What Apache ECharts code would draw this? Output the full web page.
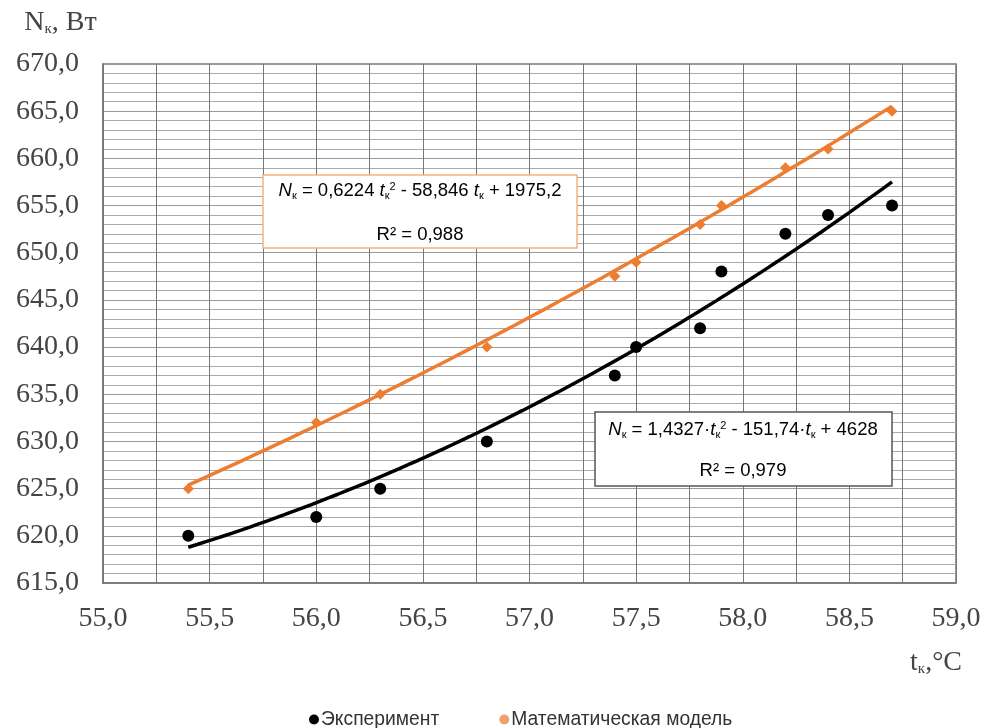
<!DOCTYPE html>
<html><head><meta charset="utf-8">
<script src="https://cdn.jsdelivr.net/npm/echarts@6/dist/echarts.min.js"></script>
<style>html,body{margin:0;padding:0;background:#fff}#c{width:985px;height:728px}</style>
</head><body><div id="c"></div>
<script>
// ---- data ----
const tExp   = [55.4, 56.0, 56.3, 56.8, 57.4, 57.5, 57.8, 57.9, 58.2, 58.4, 58.7];
const nExp   = [620, 622, 625, 630, 637, 640, 642, 648, 652, 654, 655];
const tModel = [55.4, 56.0, 56.3, 56.8, 57.4, 57.5, 57.8, 57.9, 58.2, 58.4, 58.7];
const nModel = [625, 632, 635, 640, 647.5, 649, 653, 655, 659, 661, 665];
// trendline coefficients shown on the chart (a*t^2 + b*t + c)
const expCoef   = [1.4327, -151.74, 4628];
const modelCoef = [0.6224, -58.846, 1975.2];
const seriesNames = ['Эксперимент', 'Математическая модель'];
const eqExp   = ['1,4327', '151,74', '4628', '0,979'];
const eqModel = ['0,6224', '58,846', '1975,2', '0,988'];

const ORANGE = '#ed7d31';
function trend(coef, xs) {
  const lo = Math.min(...xs), hi = Math.max(...xs), pts = [];
  const n = 80;
  for (let i = 0; i <= n; i++) {
    const t = lo + (hi - lo) * i / n;
    pts.push([t, coef[0]*t*t + coef[1]*t + coef[2]]);
  }
  return pts;
}

const fmt = v => v.toFixed(1).replace('.', ',');
const serif = '"Liberation Serif","Times New Roman",serif';
const sans = '"Liberation Sans",Arial,sans-serif';

const chart = echarts.init(document.getElementById('c'));
const eqRich = color => ({
  n: {fontStyle:'italic', fontSize:18.5, color, fontFamily:sans},
  t: {fontStyle:'italic', fontSize:18.5, color, fontFamily:sans},
  s: {fontSize:11, color, fontFamily:sans, padding:[9,0,0,0]},
  p: {fontSize:11, color, fontFamily:sans, padding:[0,0,8,0]},
  r: {fontSize:18.5, color, fontFamily:sans}
});
chart.setOption({
  animation:false,
  grid:{left:103, right:29, top:64, bottom:145, show:true, borderColor:'#777', borderWidth:1.5},
  xAxis:{type:'value', min:55, max:59, interval:0.5,
    axisLine:{show:true, lineStyle:{color:'#777', width:1.5}},
    axisTick:{show:false},
    axisLabel:{formatter:fmt, fontFamily:serif, fontSize:28, color:'#444', margin:22},
    splitLine:{show:true, lineStyle:{color:'#777', width:1}},
    minorTick:{show:false, splitNumber:2},
    minorSplitLine:{show:true, lineStyle:{color:'#777', width:1}},
    name:'{m|t}{s|к}{m|,°C}', nameLocation:'end', nameGap:0,
    nameTextStyle:{rich:{m:{fontFamily:serif, fontSize:28, color:'#444'}, s:{fontFamily:serif, fontSize:15, color:'#444', padding:[12,0,0,0]}},
      align:'right', verticalAlign:'top', padding:[66,-6,0,0]}
  },
  yAxis:{type:'value', min:615, max:670, interval:5,
    axisLine:{show:true, lineStyle:{color:'#777', width:1.5}},
    axisTick:{show:false},
    axisLabel:{formatter:fmt, fontFamily:serif, fontSize:28, color:'#444', margin:24},
    splitLine:{show:true, lineStyle:{color:'#999', width:1}},
    minorTick:{show:false, splitNumber:5},
    minorSplitLine:{show:true, lineStyle:{color:'#aaa', width:1}},
    name:'{m|N}{s|к}{m|, Вт}', nameLocation:'end', nameGap:27,
    nameTextStyle:{rich:{m:{fontFamily:serif, fontSize:28, color:'#444'}, s:{fontFamily:serif, fontSize:15, color:'#444', padding:[12,0,0,0]}},
      align:'center', padding:[0,0,0,-85]}
  },
  legend:{top:705, left:304, itemGap:60, itemWidth:10, itemHeight:10,
    textStyle:{fontFamily:sans, fontSize:19.3, color:'#333', padding:[0,0,0,-3]},
    data:[{name:seriesNames[0], icon:'circle', itemStyle:{color:'#000'}},
          {name:seriesNames[1], icon:'circle', itemStyle:{color:'#f0a070'}}]},
  series:[
    {name:'trendModel', type:'line', data:trend(modelCoef, tModel), showSymbol:false, symbol:'none',
      lineStyle:{color:ORANGE, width:3.5}, z:2, silent:true},
    {name:'trendExp', type:'line', data:trend(expCoef, tExp), showSymbol:false, symbol:'none',
      lineStyle:{color:'#000', width:3.5}, z:2, silent:true},
    {name:seriesNames[0], type:'scatter', data:tExp.map((t,i)=>[t,nExp[i]]), symbol:'circle', symbolSize:12,
      itemStyle:{color:'#000', opacity:1}, z:3},
    {name:seriesNames[1], type:'scatter', data:tModel.map((t,i)=>[t,nModel[i]]), symbol:'diamond', symbolSize:11,
      itemStyle:{color:ORANGE, opacity:1}, z:3}
  ],
  graphic:[
    {type:'rect', shape:{x:263, y:175, width:314, height:73}, style:{fill:'#fff', stroke:'#f4b183', lineWidth:1.5}, z:10},
    {type:'text', x:420, y:191, z:11, style:{
      text:'{n|N}{s|к}{r| = '+eqModel[0]+' }{t|t}{s|к}{p|2}{r| - '+eqModel[1]+' }{t|t}{s|к}{r| + '+eqModel[2]+'}',
      rich:eqRich(ORANGE), align:'center', verticalAlign:'middle'}},
    {type:'text', x:420, y:235, z:11, style:{text:'{r|R² = '+eqModel[3]+'}', rich:eqRich(ORANGE), align:'center', verticalAlign:'middle'}},
    {type:'rect', shape:{x:595, y:412, width:297, height:74}, style:{fill:'#fff', stroke:'#555', lineWidth:1.5}, z:10},
    {type:'text', x:743, y:430, z:11, style:{
      text:'{n|N}{s|к}{r| = '+eqExp[0]+'·}{t|t}{s|к}{p|2}{r| - '+eqExp[1]+'·}{t|t}{s|к}{r| + '+eqExp[2]+'}',
      rich:eqRich('#333'), align:'center', verticalAlign:'middle'}},
    {type:'text', x:743, y:471, z:11, style:{text:'{r|R² = '+eqExp[3]+'}', rich:eqRich('#333'), align:'center', verticalAlign:'middle'}}
  ]
});
</script></body></html>
